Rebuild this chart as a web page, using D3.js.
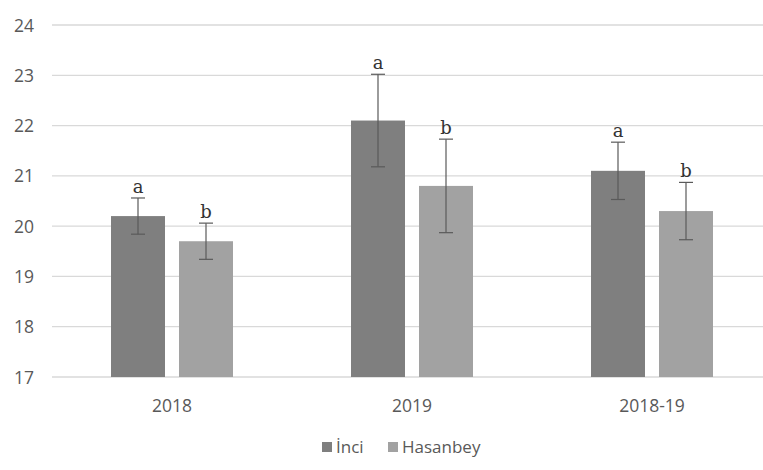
<!DOCTYPE html>
<html>
<head>
<meta charset="utf-8">
<script src="https://cdn.jsdelivr.net/npm/d3@7"></script>
<style>
  html, body { margin: 0; padding: 0; background: #fff; }
  svg { display: block; }
</style>
</head>
<body>
<svg id="chart" width="763" height="470"></svg>
<script>
// Mean values per season for each cultivar, with error and significance letters
const categories = ["2018", "2019", "2018-19"];
const seriesNames = ["İnci", "Hasanbey"];
const inciValues = [20.2, 22.1, 21.1];
const hasanbeyValues = [19.7, 20.8, 20.3];
const inciErrors = [0.36, 0.92, 0.57];
const hasanbeyErrors = [0.36, 0.93, 0.57];
const inciLetters = ["a", "a", "a"];
const hasanbeyLetters = ["b", "b", "b"];
const yTicks = [17, 18, 19, 20, 21, 22, 23, 24];
const seriesColors = ["#7f7f7f", "#a2a2a2"];

const svg = d3.select("#chart");
const W = 763;

const x = d3.scaleBand().domain(categories).range([52, 772]);
const groupW = 122;
const groupOff = (x.bandwidth() - groupW) / 2;
const xInner = d3.scaleBand().domain(seriesNames)
  .range([groupOff, groupOff + groupW]).paddingInner(0.206);
const y = d3.scaleLinear().domain([17, 24]).range([377, 25]);

// Horizontal gridlines
svg.append("g").selectAll("line").data(yTicks).join("line")
  .attr("x1", 52).attr("x2", W)
  .attr("y1", d => y(d)).attr("y2", d => y(d))
  .attr("stroke", "#d9d9d9").attr("stroke-width", 1.3);

// Y axis labels
const yAxis = d3.axisLeft(y).tickValues(yTicks).tickFormat(d3.format("d")).tickSize(0).tickPadding(0);
const gy = svg.append("g").attr("transform", "translate(34,0)").call(yAxis);
gy.select(".domain").remove();
gy.selectAll("text")
  .attr("font-family", "Open Sans, sans-serif").attr("font-size", 17.5)
  .attr("fill", "#595959").attr("text-anchor", "end").attr("dy", "0.35em");

// X axis labels
const xAxis = d3.axisBottom(x).tickSize(0).tickPadding(0);
const gx = svg.append("g").attr("transform", "translate(0,406)").call(xAxis);
gx.select(".domain").remove();
gx.selectAll("text")
  .attr("font-family", "Open Sans, sans-serif").attr("font-size", 17.5)
  .attr("fill", "#595959").attr("dy", "0.35em");

// Flatten data for drawing
const rows = [];
categories.forEach((c, i) => {
  rows.push({ cat: c, s: seriesNames[0], v: inciValues[i], e: inciErrors[i], l: inciLetters[i], col: seriesColors[0] });
  rows.push({ cat: c, s: seriesNames[1], v: hasanbeyValues[i], e: hasanbeyErrors[i], l: hasanbeyLetters[i], col: seriesColors[1] });
});

const cx = d => x(d.cat) + xInner(d.s) + xInner.bandwidth() / 2;

// Bars
svg.append("g").selectAll("rect").data(rows).join("rect")
  .attr("x", d => x(d.cat) + xInner(d.s))
  .attr("width", xInner.bandwidth())
  .attr("y", d => y(d.v))
  .attr("height", d => y(17) - y(d.v))
  .attr("fill", d => d.col);

// Error bars
const eb = svg.append("g").attr("stroke", "#5a5a5a").attr("stroke-width", 1.2);
eb.selectAll("line.v").data(rows).join("line").attr("class", "v")
  .attr("x1", cx).attr("x2", cx)
  .attr("y1", d => y(d.v + d.e)).attr("y2", d => y(d.v - d.e));
eb.selectAll("line.t").data(rows).join("line").attr("class", "t")
  .attr("x1", d => cx(d) - 7).attr("x2", d => cx(d) + 7)
  .attr("y1", d => y(d.v + d.e)).attr("y2", d => y(d.v + d.e));
eb.selectAll("line.b").data(rows).join("line").attr("class", "b")
  .attr("x1", d => cx(d) - 7).attr("x2", d => cx(d) + 7)
  .attr("y1", d => y(d.v - d.e)).attr("y2", d => y(d.v - d.e));

// Significance letters
svg.append("g").selectAll("text").data(rows).join("text")
  .attr("x", cx).attr("y", d => y(d.v + d.e) - 5)
  .attr("text-anchor", "middle")
  .attr("font-family", "DejaVu Serif, serif").attr("font-size", 18)
  .attr("fill", "#333333")
  .text(d => d.l);

// Legend
const legend = svg.append("g").attr("font-family", "Open Sans, sans-serif").attr("font-size", 17).attr("fill", "#595959");
const legendX = [322, 388];
seriesNames.forEach((n, i) => {
  legend.append("rect").attr("x", legendX[i]).attr("y", 442).attr("width", 10).attr("height", 10).attr("fill", seriesColors[i]);
  legend.append("text").attr("x", legendX[i] + 14).attr("y", 447).attr("dy", "0.35em").text(n);
});
</script>
</body>
</html>
